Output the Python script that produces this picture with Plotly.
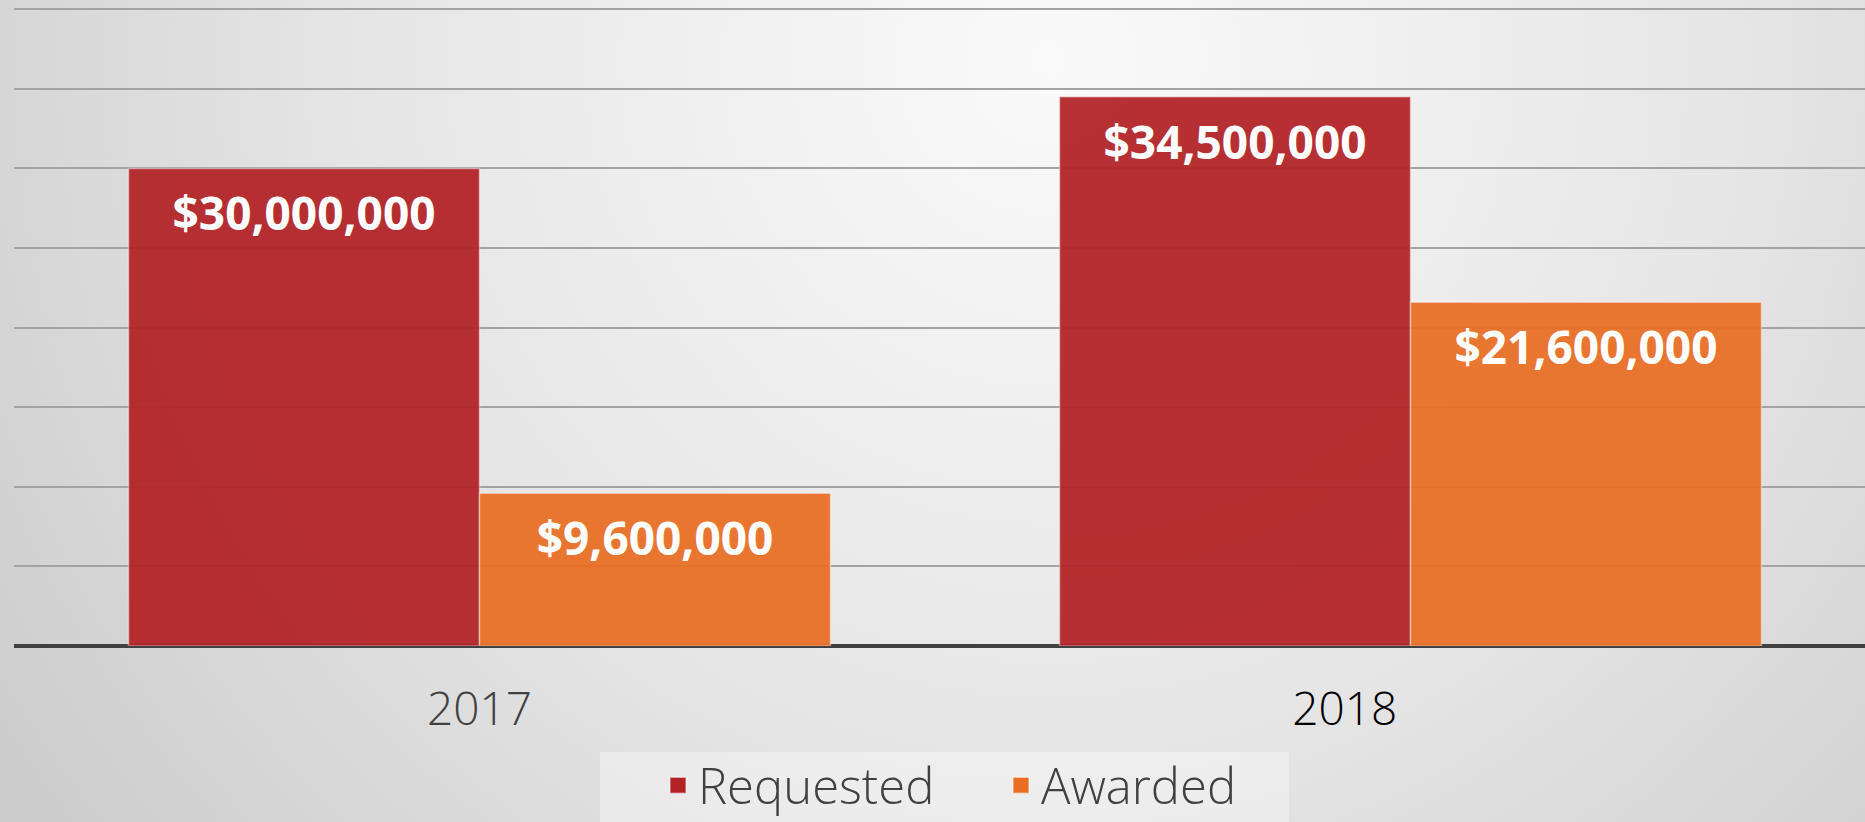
import base64
import plotly.graph_objects as go

# ---- data ----
years = ["2017", "2018"]
year_labels = ["2017", "<span style='color:#000000'>2018</span>" + "&nbsp;" * 11]
requested = [30000000, 34500000]
awarded = [9600000, 21600000]
series_names = ["Requested", "Awarded"]
requested_text = ["$30,000,000", "$34,500,000"]
awarded_text = ["$9,600,000", "$21,600,000"]

RED = "rgb(178,34,37)"
ORANGE = "rgb(233,110,35)"
EDGE = "rgba(255,255,255,0.45)"

W, H = 1865, 822
ML, MR, MT, MB = 14, 0, 4, 176
plot_w = W - ML - MR
plot_h = H - MT - MB
base_y = H - MB  # pixel row of the x axis

# background gradient (svg data uri)
svg = f'''<svg xmlns="http://www.w3.org/2000/svg" width="{W}" height="{H}" viewBox="0 0 {W} {H}" preserveAspectRatio="none">
<defs><radialGradient id="g" gradientUnits="userSpaceOnUse" cx="1050" cy="60" r="1250">
<stop offset="0" stop-color="#fafafa"/><stop offset="0.55" stop-color="#e6e6e6"/><stop offset="1" stop-color="#cdcdcd"/>
</radialGradient></defs><rect x="0" y="0" width="{W}" height="{H}" fill="url(#g)"/></svg>'''
bg_src = "data:image/svg+xml;base64," + base64.b64encode(svg.encode()).decode()

fig = go.Figure()

bargap = 0.246
fig.add_trace(go.Bar(x=years, y=requested, name=series_names[0], marker=dict(color=RED, opacity=0.93, line=dict(color=EDGE, width=1.5)),
                     offsetgroup="req", showlegend=False, hoverinfo="skip"))
fig.add_trace(go.Bar(x=years, y=awarded, name=series_names[1], marker=dict(color=ORANGE, opacity=0.93, line=dict(color=EDGE, width=1.5)),
                     offsetgroup="awd", showlegend=False, hoverinfo="skip"))

label_font = dict(family="Open Sans, Lato, sans-serif", size=46, color="white", weight="bold")
for vals, txt, grp in [(requested, requested_text, "req"), (awarded, awarded_text, "awd")]:
    fig.add_trace(go.Scatter(x=years, y=vals, mode="markers+text", text=txt, textposition="bottom center",
                             textfont=label_font, marker=dict(size=42, opacity=0), offsetgroup=grp,
                             showlegend=False, hoverinfo="skip"))

# legend entries
for name, col, grp in [(series_names[0], RED, "req"), (series_names[1], ORANGE, "awd")]:
    fig.add_trace(go.Scatter(x=[None], y=[None], mode="markers", name=name, offsetgroup=grp,
                             marker=dict(symbol="square", size=16, color=col, line=dict(color=EDGE, width=1.5))))

fig.update_layout(
    width=W, height=H,
    margin=dict(l=ML, r=MR, t=MT, b=MB, pad=0, autoexpand=False),
    paper_bgcolor="#dcdcdc", plot_bgcolor="rgba(0,0,0,0)",
    barmode="group", bargap=bargap, bargroupgap=0,
    scattermode="group", scattergap=bargap,
    font=dict(family="Open Sans, Lato, sans-serif", color="#404040"),
    images=[dict(source=bg_src, xref="paper", yref="paper", x=-ML / plot_w, y=1 + MT / plot_h,
                 sizex=W / plot_w, sizey=H / plot_h, sizing="stretch", layer="below", xanchor="left", yanchor="top")],
    shapes=[dict(type="rect", xref="paper", yref="paper", layer="below",
                 x0=(600 - ML) / plot_w, x1=(1289 - ML) / plot_w,
                 y0=-(H + 10 - base_y) / plot_h, y1=-(752 - base_y) / plot_h,
                 fillcolor="rgba(255,255,255,0.35)", line=dict(width=0))],
    showlegend=True,
    legend=dict(orientation="h", x=(1001 - ML) / plot_w, xanchor="center", y=-(747 - base_y) / plot_h, yanchor="top",
                bgcolor="rgba(0,0,0,0)", borderwidth=0, entrywidth=298,
                font=dict(size=49, color="#404040", weight=300), itemwidth=30),
)
fig.update_xaxes(type="category", range=[-0.5, -0.5 + plot_w / 931.0], tickvals=years, ticktext=year_labels,
                 showgrid=False, showline=False, ticks="", zeroline=False,
                 tickfont=dict(size=46, color="#404040", weight=300), ticklabelstandoff=32)
fig.update_yaxes(range=[0, 40.33e6], dtick=5e6, tick0=0, showgrid=True, gridcolor="#a3a3a3", gridwidth=2,
                 zeroline=True, zerolinecolor="#404040", zerolinewidth=4, showticklabels=False, ticks="", showline=False)

fig.write_html("out.html")
